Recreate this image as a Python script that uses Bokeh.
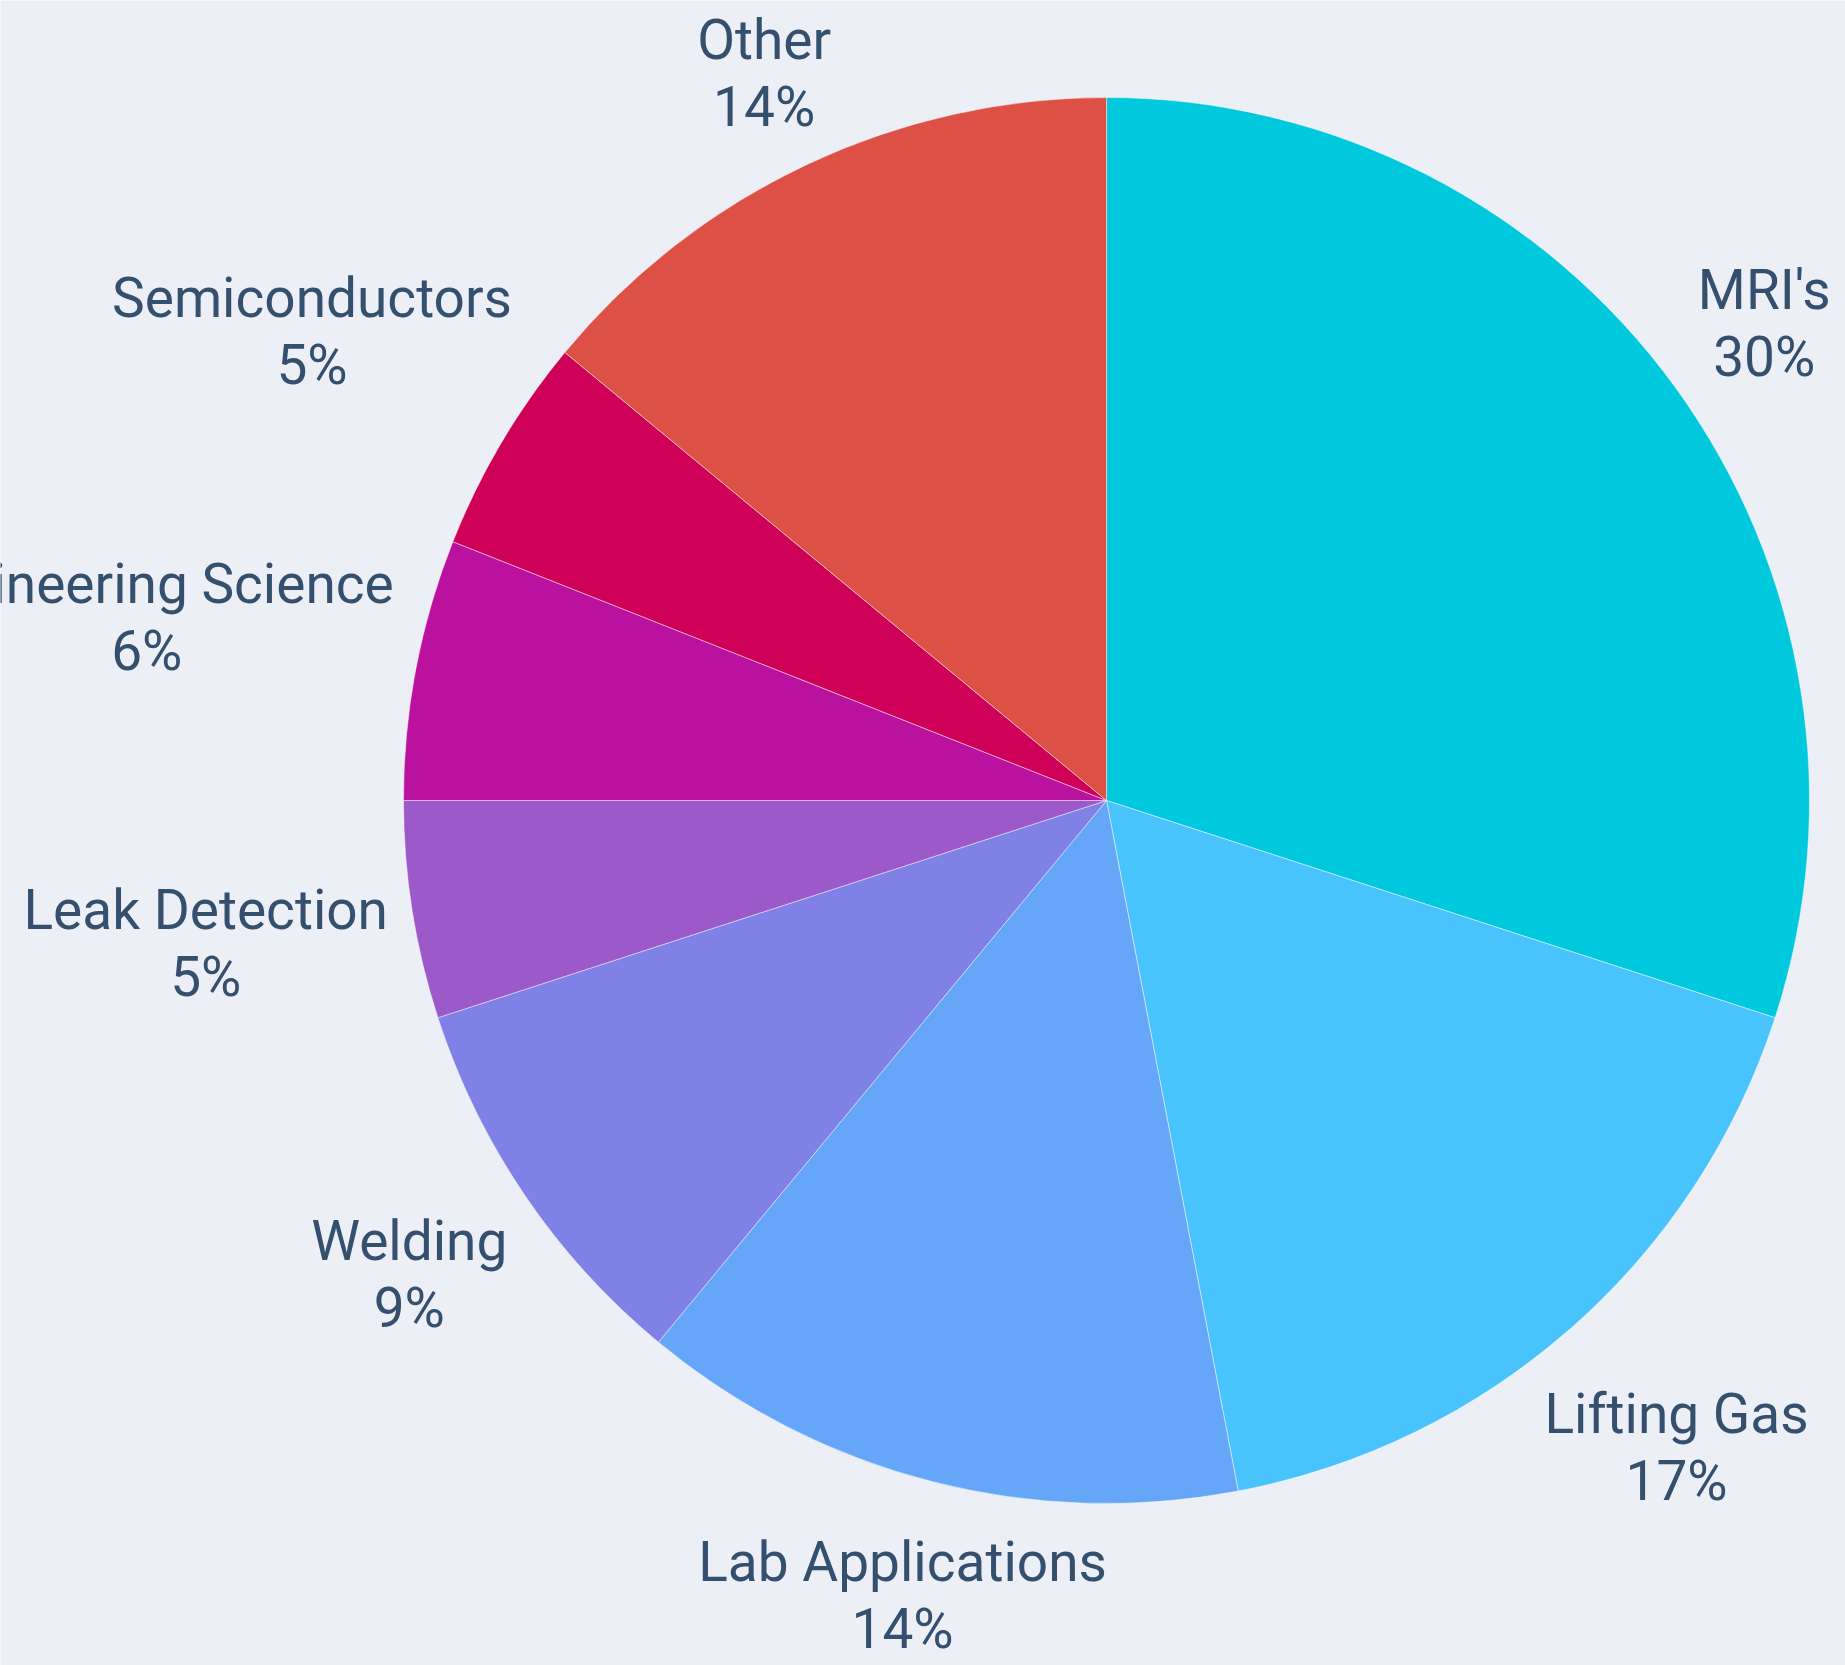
import math
from bokeh.plotting import figure
from bokeh.models import Range1d, ColumnDataSource
from bokeh.core.properties import value
from bokeh.embed import file_html
from bokeh.resources import INLINE

# ---- data ----
categories = ["MRI's", "Lifting Gas", "Lab Applications", "Welding",
              "Leak Detection", "Engineering Science", "Semiconductors", "Other"]
shares = [30, 17, 14, 9, 5, 6, 5, 14]

# ---- style / layout ----
colors = ["#00C9DD", "#48C3FC", "#66A6F8", "#7F81E6",
          "#9B59CA", "#BA129E", "#CE0058", "#DD5046"]
label_dist = [813, 862, 820, 843, 912, 977, 923, 804]

W, H = 1845, 1665
CX, CY = 1106, H - 800
R = 703

p = figure(width=W, height=H, output_backend="svg", toolbar_location=None,
           x_range=Range1d(0, W), y_range=Range1d(0, H),
           x_axis_location=None, y_axis_location=None, min_border=0)
p.grid.visible = False
p.outline_line_color = None
p.background_fill_color = "#ECEFF5"
p.border_fill_color = "#ECEFF5"

total = float(sum(shares))
starts, ends, mids = [], [], []
a = math.pi / 2
for v in shares:
    span = v / total * 2 * math.pi
    starts.append(a)
    ends.append(a - span)
    mids.append(a - span / 2)
    a -= span

src = ColumnDataSource(dict(x=[CX] * len(shares), y=[CY] * len(shares),
                            start=starts, end=ends, color=colors))
p.wedge(x="x", y="y", radius=R, start_angle="end", end_angle="start",
        fill_color="color", line_color="#FFFFFF", line_alpha=0.45, line_width=1,
        source=src)

lx = [CX + d * math.cos(m) for d, m in zip(label_dist, mids)]
ly = [CY + d * math.sin(m) for d, m in zip(label_dist, mids)]
lab = ColumnDataSource(dict(
    x=lx,
    yn=[y + 33 for y in ly],
    yp=[y - 34 for y in ly],
    name=categories,
    pct=[f"{v}%" for v in shares]))

common = dict(text_align="center", text_baseline="alphabetic",
              text_font=value("Roboto"), text_font_size="55px",
              text_color="#34506E", source=lab)
p.text(x="x", y="yn", text="name", **common)
p.text(x="x", y="yp", text="pct", **common)

open("out.html", "w").write(file_html(p, INLINE))
